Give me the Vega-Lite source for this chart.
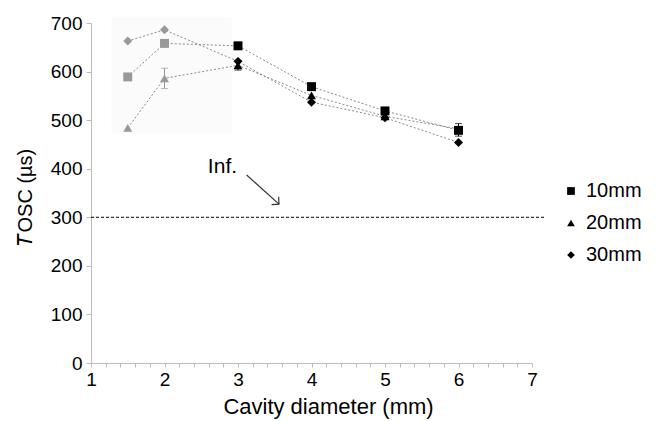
{
  "$schema": "https://vega.github.io/schema/vega-lite/v6.json",
  "autosize": {"type": "none"},
  "width": 441,
  "height": 340,
  "padding": {"left": 91, "top": 23, "right": 128, "bottom": 58},
  "background": "white",
  "config": {
    "font": "Liberation Sans",
    "view": {"stroke": null},
    "axis": {"grid": false, "labelColor": "black", "labelFontSize": 19, "domainColor": "#bdbdbd", "tickColor": "#bdbdbd", "titleColor": "black", "titleFontWeight": "normal"}
  },
  "datasets": {
    "pts": [
      {"s": "10mm", "d": 1.5, "t": 589, "g": "gray"},
      {"s": "10mm", "d": 2, "t": 658, "g": "gray"},
      {"s": "10mm", "d": 3, "t": 653, "g": "black"},
      {"s": "10mm", "d": 4, "t": 569, "g": "black"},
      {"s": "10mm", "d": 5, "t": 519, "g": "black"},
      {"s": "10mm", "d": 6, "t": 479, "g": "black"},
      {"s": "20mm", "d": 1.5, "t": 484, "g": "gray"},
      {"s": "20mm", "d": 2, "t": 586, "g": "gray"},
      {"s": "20mm", "d": 3, "t": 613, "g": "black"},
      {"s": "20mm", "d": 4, "t": 551, "g": "black"},
      {"s": "20mm", "d": 5, "t": 508, "g": "black"},
      {"s": "20mm", "d": 6, "t": 482, "g": "black"},
      {"s": "30mm", "d": 1.5, "t": 663, "g": "gray"},
      {"s": "30mm", "d": 2, "t": 686, "g": "gray"},
      {"s": "30mm", "d": 3, "t": 621, "g": "black"},
      {"s": "30mm", "d": 4, "t": 537, "g": "black"},
      {"s": "30mm", "d": 5, "t": 505, "g": "black"},
      {"s": "30mm", "d": 6, "t": 454, "g": "black"}
    ],
    "err": [
      {"s": "20mm", "d": 2, "lo": 565, "hi": 607, "g": "gray"},
      {"s": "20mm", "d": 3, "lo": 603, "hi": 623, "g": "black"},
      {"s": "10mm", "d": 6, "lo": 467, "hi": 493, "g": "black"}
    ],
    "ref": [{"d": 1, "d2": 7.18, "t": 300}],
    "arrow": [{"d": 3.118, "d2": 3.558, "t": 387, "t2": 327}],
    "note": [{"d": 2.59, "t": 392, "txt": "Inf."}],
    "shade": [{"d": 1.28, "d2": 2.914, "t": 473, "t2": 713}]
  },
  "layer": [
    {
      "data": {"name": "shade"},
      "mark": {"type": "rect", "fill": "#fbfbfb", "clip": false},
      "encoding": {
        "x": {"field": "d", "type": "quantitative", "scale": {"domain": [1, 7], "nice": false, "zero": false},
          "axis": {"title": "Cavity diameter (mm)", "orient": "bottom", "tickCount": 40, "values": [1, 1.2, 1.4, 1.6, 1.8, 2, 2.2, 2.4, 2.6, 2.8, 3, 3.2, 3.4, 3.6, 3.8, 4, 4.2, 4.4, 4.6, 4.8, 5, 5.2, 5.4, 5.6, 5.8, 6, 6.2, 6.4, 6.6, 6.8, 7],
            "labelExpr": "datum.value == round(datum.value) ? format(datum.value, 'd') : ''", "tickSize": 4, "labelPadding": 3, "labelFlush": false, "labelOverlap": false,
            "titleFontSize": 22, "titleX": 237, "titleY": 50, "titleAlign": "center", "titleBaseline": "alphabetic"}},
        "x2": {"field": "d2"},
        "y": {"field": "t", "type": "quantitative", "scale": {"domain": [0, 700], "nice": false},
          "axis": {"title": "𝑇OSC (µs)", "orient": "left", "tickCount": 10, "values": [0, 100, 200, 300, 400, 500, 600, 700], "tickSize": 5, "labelPadding": 4, "titleFontSize": 20, "titleAngle": -90, "titleAlign": "left", "titleBaseline": "alphabetic", "titleX": -60, "titleY": 222}},
        "y2": {"field": "t2"}
      }
    },
    {
      "data": {"name": "ref"},
      "mark": {"type": "rule", "color": "black", "strokeDash": [3, 2], "strokeWidth": 1},
      "encoding": {
        "x": {"field": "d", "type": "quantitative"},
        "x2": {"field": "d2"},
        "y": {"field": "t", "type": "quantitative"}
      }
    },
    {
      "data": {"name": "pts"},
      "mark": {"type": "line", "color": "#8a8a8a", "strokeDash": [2, 2], "strokeWidth": 1},
      "encoding": {
        "x": {"field": "d", "type": "quantitative"},
        "y": {"field": "t", "type": "quantitative"},
        "detail": {"field": "s"},
        "order": {"field": "d"}
      }
    },
    {
      "data": {"name": "err"},
      "mark": {"type": "rule", "strokeWidth": 1},
      "encoding": {
        "x": {"field": "d", "type": "quantitative"},
        "y": {"field": "lo", "type": "quantitative"},
        "y2": {"field": "hi"},
        "color": {"field": "g", "type": "nominal", "scale": {"domain": ["gray", "black"], "range": ["#999999", "#000000"]}, "legend": null}
      }
    },
    {
      "data": {"name": "err"},
      "mark": {"type": "tick", "orient": "horizontal", "size": 7, "thickness": 1},
      "encoding": {
        "x": {"field": "d", "type": "quantitative"},
        "y": {"field": "hi", "type": "quantitative"},
        "color": {"field": "g", "type": "nominal", "legend": null}
      }
    },
    {
      "data": {"name": "err"},
      "mark": {"type": "tick", "orient": "horizontal", "size": 7, "thickness": 1},
      "encoding": {
        "x": {"field": "d", "type": "quantitative"},
        "y": {"field": "lo", "type": "quantitative"},
        "color": {"field": "g", "type": "nominal", "legend": null}
      }
    },
    {
      "data": {"name": "pts"},
      "mark": {"type": "point", "filled": true, "opacity": 1, "size": 80},
      "encoding": {
        "x": {"field": "d", "type": "quantitative"},
        "y": {"field": "t", "type": "quantitative"},
        "shape": {"field": "s", "type": "nominal", "scale": {"domain": ["10mm", "20mm", "30mm"], "range": ["square", "triangle-up", "diamond"]},
          "legend": {"title": null, "orient": "none", "legendX": 470, "legendY": 158, "labelFontSize": 20, "labelColor": "black", "symbolSize": 60, "rowPadding": 12, "labelOffset": 5,
            "encode": {"symbols": {"update": {"fill": {"value": "black"}, "stroke": {"value": "black"}, "strokeWidth": {"value": 0}}}}}},
        "color": {"field": "g", "type": "nominal", "legend": null}
      }
    },
    {
      "data": {"name": "arrow"},
      "mark": {"type": "rule", "color": "#333333", "strokeWidth": 1.2},
      "encoding": {
        "x": {"field": "d", "type": "quantitative"},
        "x2": {"field": "d2"},
        "y": {"field": "t", "type": "quantitative"},
        "y2": {"field": "t2"}
      }
    },
    {
      "data": {"name": "arrow"},
      "mark": {"type": "point", "shape": "M-1,-1L0,0L1,-1", "filled": false, "stroke": "#333333", "strokeWidth": 1.2, "size": 110, "angle": 312, "opacity": 1},
      "encoding": {
        "x": {"field": "d2", "type": "quantitative"},
        "y": {"field": "t2", "type": "quantitative"}
      }
    },
    {
      "data": {"name": "note"},
      "mark": {"type": "text", "align": "left", "baseline": "alphabetic", "fontSize": 21, "color": "black"},
      "encoding": {
        "x": {"field": "d", "type": "quantitative"},
        "y": {"field": "t", "type": "quantitative"},
        "text": {"field": "txt"}
      }
    }
  ]
}
